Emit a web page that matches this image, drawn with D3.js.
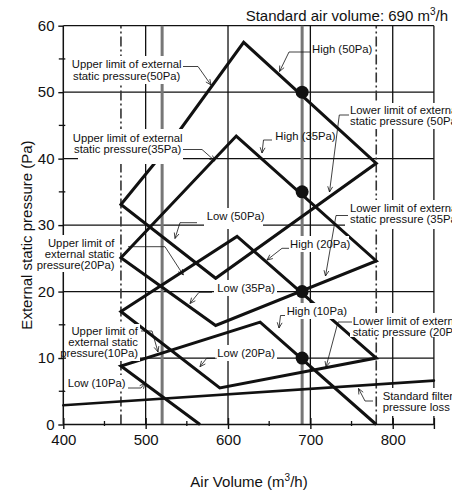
<!DOCTYPE html>
<html><head><meta charset="utf-8">
<script src="https://cdn.jsdelivr.net/npm/d3@7"></script>
<style>
body{margin:0;background:#fff}
svg{display:block}
text{font-family:"Liberation Sans",Arial,Helvetica,sans-serif;fill:#111}
</style>
</head><body>
<svg id="c" width="452" height="494"></svg>
<script>
// ---------- data ----------
const xTicks = [400, 500, 600, 700, 800];
const xMinorTicks = [450, 550, 650, 750];
const xEndTick = [850];
const yTicks = [0, 10, 20, 30, 40, 50, 60];
const yMinorTicks = [5, 15, 25, 35, 45, 55];
const xGrid = [500, 600, 700, 800, 850];
const yGrid = [10, 20, 30, 40, 50, 60];
const airflowLimits = [470, 780];          // dash-dot lines
const referenceAir = [520, 690];           // grey lines
const standardAir = 690;
const operatingESP = [50, 35, 20, 10];     // dots at standard air volume
// closed operating areas (upper limit -> High -> lower limit -> Low)
const area50 = [[470, 33.1], [524, 41.3], [619, 57.5], [780, 39.3], [585, 22.0]];
const area35 = [[470, 25.1], [610, 43.4], [780, 24.6], [585, 14.9]];
const area20 = [[470, 17.0], [611, 28.3], [780, 10.0], [590, 5.5]];
const area10 = [[566, 0.0], [470, 8.8], [639, 15.4], [780, 0.0]];   // lower limit lies on the axis
const filterLoss = [[400, 2.9], [850, 6.6]];

// ---------- annotations (layout) ----------
const notes = [
  {lines:["Upper limit of external","static pressure(50Pa)"], x:126.7, y:68.3, a:"middle", box:[70,56,183,84], leader:[[183,66.5],[198,66.5],[211,85]]},
  {lines:["Upper limit of external","static pressure(35Pa)"], x:127.7, y:141.5, a:"middle", box:[78,129,183,164], leader:[[183,149.5],[202,149.5],[215,161]]},
  {lines:["High (50Pa)"], x:312, y:53.2, a:"start", box:[311.5,43,374,57], leader:[[311,52],[289,52],[279.5,71.5]]},
  {lines:["High (35Pa)"], x:275.3, y:139.5, a:"start", box:null, leader:[[272,140],[263.5,140],[262,153]]},
  {lines:["Lower limit of external","static pressure (50Pa)"], x:350, y:114.2, a:"start", box:[345,103,452,129], leader:[[349,115],[339.3,115],[329.5,192]]},
  {lines:["Lower limit of external","static pressure (35Pa)"], x:350, y:212.2, a:"start", box:[345,200,452,229], leader:[[348,215.5],[336,215.5],[325.5,276]]},
  {lines:["Low (50Pa)"], x:206.7, y:219.8, a:"start", box:[204,208,263,229], leader:[[197,222.7],[180,222.7],[175,238.5]]},
  {lines:["Low (35Pa)"], x:217.3, y:291.5, a:"start", box:[214,280,277,296], leader:[[212,292.3],[199,292.3],[190,303.5]]},
  {lines:["High (20Pa)"], x:290, y:248.2, a:"start", box:[289,236,349,252], leader:[[289,248.3],[282,248.3],[267,260]]},
  {lines:["High (10Pa)"], x:286.7, y:314.8, a:"start", box:[284,303,349,319], leader:[[285,315.5],[280.5,315.5],[279,328]]},
  {lines:["Lower limit of external","static pressure (20Pa)"], x:352.7, y:324.8, a:"start", box:[350,313,452,337], leader:[[352,322],[338,322],[326,367]]},
  {lines:["Low (20Pa)"], x:217.3, y:356.5, a:"start", box:[215,345,277,361], leader:[[216.7,358.3],[206.7,358.3],[200,366.7]]},
  {lines:["Upper limit of","external static","pressure(20Pa)"], x:114.5, y:246.5, a:"end", box:[40,235,117,272], leader:[[128,246.7],[165,246.7],[183.3,275]]},
  {lines:["Upper limit of","external static","pressure(10Pa)"], x:138, y:334.5, a:"end", box:[66,324,140,361], leader:[[141,331],[152,331],[158,352]]},
  {lines:["Low (10Pa)"], x:67.7, y:386.5, a:"start", box:[65,375,127,391], leader:[[128,388],[141,388],[145,383]]},
  {lines:["Standard filter","pressure loss"], x:382.7, y:400, a:"start", box:[378,388,452,416], leader:[[373,401],[365,401],[358.5,388.5]]}
];

// ---------- drawing ----------
const svg = d3.select("#c");
const x = d3.scaleLinear().domain([400, 850]).range([63.3, 433.9]);
const y = d3.scaleLinear().domain([0, 60]).range([424.5, 25.7]);
const FONT = '"Liberation Sans",Arial,Helvetica,sans-serif';

// grid
svg.append("g").selectAll("line").data(xGrid).join("line")
  .attr("x1", d => x(d)).attr("x2", d => x(d)).attr("y1", y(0)).attr("y2", y(60))
  .attr("stroke", "#111").attr("stroke-width", 1.3);
svg.append("g").selectAll("line").data(yGrid).join("line")
  .attr("x1", x(400)).attr("x2", x(850)).attr("y1", d => y(d)).attr("y2", d => y(d))
  .attr("stroke", "#111").attr("stroke-width", 1.3);

// dash-dot airflow limits
svg.append("g").selectAll("line").data(airflowLimits).join("line")
  .attr("x1", d => x(d)).attr("x2", d => x(d)).attr("y1", y(0)).attr("y2", y(60))
  .attr("stroke", "#333").attr("stroke-width", 1.6).attr("stroke-dasharray", "10,3,2,3");

// grey reference lines
svg.append("g").selectAll("line").data(referenceAir).join("line")
  .attr("x1", d => x(d)).attr("x2", d => x(d)).attr("y1", y(0)).attr("y2", y(60))
  .attr("stroke", "#777").attr("stroke-width", 3);

// curves
const line = d3.line().x(d => x(d[0])).y(d => y(d[1]));
const closed = d3.line().x(d => x(d[0])).y(d => y(d[1])).curve(d3.curveLinearClosed);
const curves = svg.append("g").attr("fill", "none").attr("stroke", "#111").attr("stroke-width", 3).attr("stroke-linejoin", "miter");
[area50, area35, area20].forEach(a => curves.append("path").attr("d", closed(a)));
curves.append("path").attr("d", line(area10));
curves.append("path").attr("d", line(filterLoss)).attr("stroke-width", 2.6).attr("stroke-linecap", "round");

// operating points
svg.append("g").selectAll("circle").data(operatingESP).join("circle")
  .attr("cx", x(standardAir)).attr("cy", d => y(d)).attr("r", 6.5).attr("fill", "#111");

// axes
const ax = svg.append("g").attr("transform", `translate(0,${y(0)})`)
  .call(d3.axisBottom(x).tickValues(xTicks.concat(xEndTick)).tickSize(4.5).tickSizeOuter(0).tickPadding(5.3)
    .tickFormat(d => xTicks.includes(d) ? d : ""));
ax.select(".domain").remove();
ax.attr("font-size", 15).attr("font-family", FONT);
ax.selectAll(".tick line").attr("stroke", "#111").attr("stroke-width", 1.4).attr("y1", -6.5);
ax.selectAll("text").attr("fill", "#111");

const ay = svg.append("g").attr("transform", `translate(${x(400)},0)`)
  .call(d3.axisLeft(y).tickValues(yTicks).tickSize(5).tickSizeOuter(0).tickPadding(3.8));
ay.select(".domain").remove();
ay.attr("font-size", 15).attr("font-family", FONT);
ay.selectAll(".tick line").attr("stroke", "#111").attr("stroke-width", 1.4);
ay.selectAll("text").attr("fill", "#111");

// minor ticks
svg.append("g").selectAll("line").data(xMinorTicks).join("line")
  .attr("x1", d => x(d)).attr("x2", d => x(d)).attr("y1", y(0) - 3.5).attr("y2", y(0) + 1.5)
  .attr("stroke", "#111").attr("stroke-width", 1.3);
svg.append("g").selectAll("line").data(yMinorTicks).join("line")
  .attr("x1", x(400) - 4.5).attr("x2", x(400) + 2).attr("y1", d => y(d)).attr("y2", d => y(d))
  .attr("stroke", "#111").attr("stroke-width", 1.3);

// axis lines
svg.append("line").attr("x1", x(400)).attr("x2", x(400)).attr("y1", y(0)).attr("y2", y(60))
  .attr("stroke", "#111").attr("stroke-width", 1.5);
svg.append("line").attr("x1", x(400)).attr("x2", x(850)).attr("y1", y(0)).attr("y2", y(0))
  .attr("stroke", "#111").attr("stroke-width", 1.5);

// annotations
const ann = svg.append("g");
notes.forEach(n => {
  if (n.box) ann.append("rect").attr("x", n.box[0]).attr("y", n.box[1])
    .attr("width", n.box[2] - n.box[0]).attr("height", n.box[3] - n.box[1]).attr("fill", "#fff");
});
notes.forEach(n => {
  const t = ann.append("text").attr("font-size", 11.3).attr("text-anchor", n.a);
  n.lines.forEach((s, i) => t.append("tspan").attr("x", n.x).attr("y", n.y + i * 11.2).text(s));
  ann.append("path").attr("d", d3.line()(n.leader)).attr("fill", "none").attr("stroke", "#111").attr("stroke-width", 0.8);
  const L = n.leader, T = L[L.length - 1], P = L[L.length - 2];
  const ang = Math.atan2(T[1] - P[1], T[0] - P[0]);
  const hl = 6, sp = 0.42;
  const h1 = [T[0] - hl * Math.cos(ang - sp), T[1] - hl * Math.sin(ang - sp)];
  const h2 = [T[0] - hl * Math.cos(ang + sp), T[1] - hl * Math.sin(ang + sp)];
  ann.append("path").attr("d", d3.line()([h1, T, h2])).attr("fill", "none").attr("stroke", "#111").attr("stroke-width", 0.8);
});

// titles
const tt = svg.append("text").attr("x", 448).attr("y", 20.7).attr("text-anchor", "end").attr("font-size", 15);
tt.append("tspan").text("Standard air volume: 690 m");
tt.append("tspan").attr("font-size", 10).attr("dy", -6).text("3");
tt.append("tspan").attr("dy", 6).text("/h");

const xt = svg.append("text").attr("x", 249).attr("y", 486.5).attr("text-anchor", "middle").attr("font-size", 15);
xt.append("tspan").text("Air Volume (m");
xt.append("tspan").attr("font-size", 10).attr("dy", -6).text("3");
xt.append("tspan").attr("dy", 6).text("/h)");

svg.append("text").attr("transform", "translate(31.7,235) rotate(-90)").attr("text-anchor", "middle")
  .attr("font-size", 15).text("External static pressure (Pa)");
</script>
</body></html>
